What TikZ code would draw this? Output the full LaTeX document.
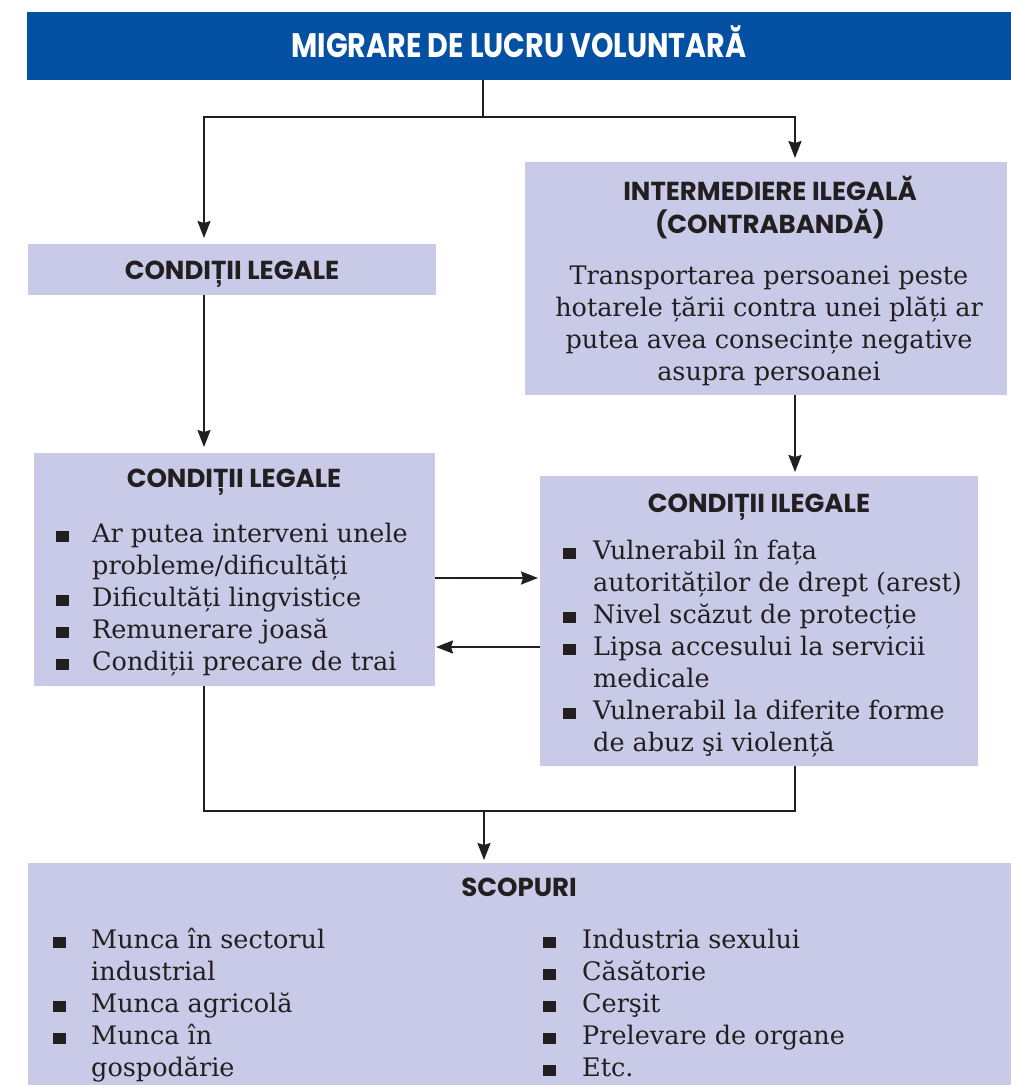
\documentclass[tikz,border=0pt]{standalone}
\usepackage{fontspec}
\setmainfont{DejaVu Serif}
\newfontfamily\headfont{Poppins}
\newfontfamily\titlefont{Poppins}[FakeStretch=0.84]
\usetikzlibrary{arrows.meta}
\definecolor{titleblue}{HTML}{0450A3}
\definecolor{boxfill}{HTML}{C8CAE8}
\definecolor{ink}{HTML}{231F20}
\newcommand{\bul}{\rule{13pt}{11.5pt}}
\newcommand{\bodyfont}{\fontsize{25.5}{32}\selectfont}
\newcommand{\bcol}[1]{\makebox[#1][l]{\bul}}
\begin{document}
\begin{tikzpicture}[x=1pt,y=-1pt,
  box/.style={fill=boxfill, draw=none, inner sep=0pt, outer sep=0pt, anchor=north west},
  heading/.style={font=\headfont\bfseries\fontsize{26}{30.5}\selectfont, text=ink, inner sep=0pt},
  body/.style={font=\bodyfont, text=ink, inner sep=0pt},
  conn/.style={draw=ink, line width=2.2pt},
  arr/.style={conn, -{Stealth[length=17pt,width=13pt,inset=2pt]}},
]
\fill[white] (0,0) rectangle (1011,1085);
\useasboundingbox (0,0) rectangle (1011,1085);

% boxes
\node[box, fill=titleblue, minimum width=984pt, minimum height=68pt] (title) at (27,12) {};
\node[box, minimum width=408pt, minimum height=51pt] (cl1) at (28,244) {};
\node[box, minimum width=482pt, minimum height=233pt] (il) at (525,162) {};
\node[box, minimum width=401pt, minimum height=233pt] (cl2) at (34,453) {};
\node[box, minimum width=438pt, minimum height=290pt] (ci) at (540,476) {};
\node[box, minimum width=983pt, minimum height=222pt] (sc) at (28,863) {};

% texts
\node[inner sep=0pt, anchor=base, text=white, font=\titlefont\bfseries\fontsize{34}{38}\selectfont] (titletext) at (519,57.5) {MIGRARE DE LUCRU VOLUNTARĂ};
\node[heading, anchor=base] (cl1text) at (232,279) {CONDIȚII LEGALE};
\node[heading, anchor=north] (iltitle) at (770,175.6) {\begin{tabular}{@{}c@{}}INTERMEDIERE ILEGALĂ\\(CONTRABANDĂ)\end{tabular}};
\node[body, anchor=north] (iltext) at (769,261.6) {\begin{tabular}{@{}c@{}}Transportarea persoanei peste\\hotarele țării contra unei plăți ar\\putea avea consecințe negative\\asupra persoanei\end{tabular}};
\node[heading, anchor=base] (cl2title) at (234,487) {CONDIȚII LEGALE};
\node[body, anchor=north west] (cl2list) at (56,519.6) {\begin{tabular}{@{}l@{}l@{}}
\bcol{36pt} & Ar putea interveni unele\\
 & probleme/dificultăți\\
\bcol{36pt} & Dificultăți lingvistice\\
\bcol{36pt} & Remunerare joasă\\
\bcol{36pt} & Condiții precare de trai
\end{tabular}};
\node[heading, anchor=base] (cititle) at (759,512) {CONDIȚII ILEGALE};
\node[body, anchor=north west] (cilist) at (563,536.6) {\begin{tabular}{@{}l@{}l@{}}
\bcol{30pt} & Vulnerabil în fața\\
 & autorităților de drept (arest)\\
\bcol{30pt} & Nivel scăzut de protecție\\
\bcol{30pt} & Lipsa accesului la servicii\\
 & medicale\\
\bcol{30pt} & Vulnerabil la diferite forme\\
 & de abuz şi violență
\end{tabular}};
\node[heading, anchor=base] (sctitle) at (519,896) {SCOPURI};
\node[body, anchor=north west] (scleft) at (53,925.6) {\begin{tabular}{@{}l@{}l@{}}
\bcol{38pt} & Munca în sectorul\\
 & industrial\\
\bcol{38pt} & Munca agricolă\\
\bcol{38pt} & Munca în\\
 & gospodărie
\end{tabular}};
\node[body, anchor=north west] (scright) at (543,925.6) {\begin{tabular}{@{}l@{}l@{}}
\bcol{39pt} & Industria sexului\\
\bcol{39pt} & Căsătorie\\
\bcol{39pt} & Cerşit\\
\bcol{39pt} & Prelevare de organe\\
\bcol{39pt} & Etc.
\end{tabular}};

% connectors
\coordinate (jt) at (483,117);
\coordinate (jl) at (204,117);
\coordinate (jr) at (795,117);
\coordinate (jb) at (484,811);
\coordinate (ya) at (0,578);
\coordinate (yb) at (0,647);
\draw[conn] (title.south -| jt) -- (jt);
\draw[arr, shorten >=6pt] (jt) -| (jl |- cl1.north);
\draw[arr, shorten >=4pt] (jt) -| (jr |- il.north);
\draw[arr, shorten >=6pt] (cl1.south -| jl) -- (cl2.north -| jl);
\draw[arr, shorten >=4pt] (il.south -| jr) -- (ci.north -| jr);
\draw[arr, shorten >=2pt] (cl2.east |- ya) -- (ci.west |- ya);
\draw[arr, shorten >=1pt] (ci.west |- yb) -- (cl2.east |- yb);
\draw[conn] (cl2.south -| jl) |- (jr |- jb) -- (ci.south -| jr);
\draw[arr, shorten >=3pt] (jb) -- (sc.north -| jb);
\end{tikzpicture}
\end{document}
